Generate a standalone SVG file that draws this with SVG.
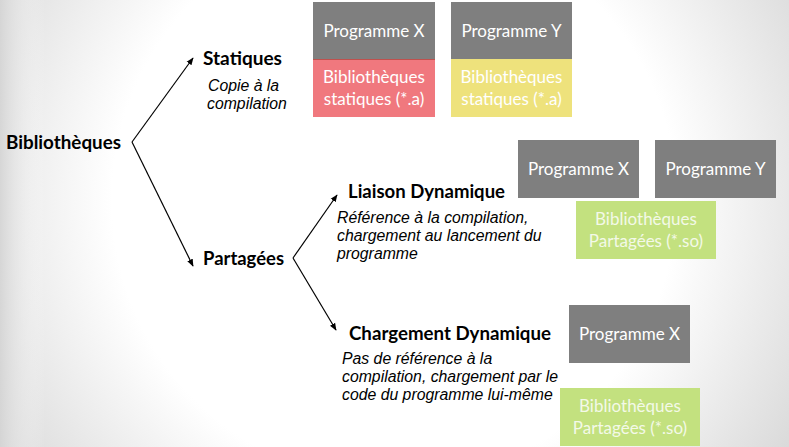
<svg xmlns="http://www.w3.org/2000/svg" width="789" height="447" viewBox="0 0 789 447">
<defs>
<radialGradient id="bg" cx="394" cy="200" r="470" gradientUnits="userSpaceOnUse">
<stop offset="0" stop-color="#ffffff"/>
<stop offset="0.6" stop-color="#ffffff"/>
<stop offset="1" stop-color="#d9d9d9"/>
</radialGradient>
<linearGradient id="edge" x1="0" y1="0" x2="45" y2="0" gradientUnits="userSpaceOnUse">
<stop offset="0" stop-color="#d4d4d4" stop-opacity="0.9"/>
<stop offset="1" stop-color="#ffffff" stop-opacity="0"/>
</linearGradient>
<marker id="ah" viewBox="0 0 10 10" refX="9" refY="5" markerWidth="7.5" markerHeight="7.5" markerUnits="userSpaceOnUse" orient="auto">
<path d="M0,1 L10,5 L0,9 Z" fill="#000"/>
</marker>
<style>
.h{font-family:Lato,"Liberation Sans",sans-serif;font-weight:bold;font-size:19px;fill:#000}
.d{font-family:"Liberation Sans",Arial,sans-serif;font-style:italic;font-size:15.8px;fill:#000}
.bt{font-family:Lato,"Liberation Sans",sans-serif;font-size:17px;fill:#fff;text-anchor:middle}
.gt{font-family:Lato,"Liberation Sans",sans-serif;font-size:17px;fill:#f3f9e8;text-anchor:middle}
.gray{fill:#7f7f7f}
.pink{fill:#f0787e}
.yel{fill:#eee27c}
.grn{fill:#c3e17f}
.ln{stroke:#000;stroke-width:1.2;fill:none;marker-end:url(#ah)}
</style>
</defs>
<rect width="789" height="447" fill="url(#bg)"/>
<rect width="45" height="447" fill="url(#edge)"/>
<g id="connectors">
<line class="ln" x1="132" y1="142" x2="193" y2="58"/>
<line class="ln" x1="132" y1="142" x2="193" y2="266"/>
<line class="ln" x1="293" y1="258" x2="337" y2="195"/>
<line class="ln" x1="293" y1="258" x2="336" y2="330"/>
</g>
<g id="bibliotheques">
<text class="h" x="6" y="149" textLength="115" lengthAdjust="spacingAndGlyphs">Bibliothèques</text>
</g>
<g id="statiques">
<text class="h" x="203" y="65" textLength="79" lengthAdjust="spacingAndGlyphs">Statiques</text>
<text class="d" x="208" y="91">Copie à la</text>
<text class="d" x="207" y="109">compilation</text>
</g>
<g id="partagees">
<text class="h" x="203" y="265" textLength="81" lengthAdjust="spacingAndGlyphs">Partagées</text>
</g>
<g id="liaison">
<text class="h" x="348" y="198" textLength="157" lengthAdjust="spacingAndGlyphs">Liaison Dynamique</text>
<text class="d" x="337" y="223">Référence à la compilation,</text>
<text class="d" x="337" y="241">chargement au lancement du</text>
<text class="d" x="337" y="259">programme</text>
</g>
<g id="chargement">
<text class="h" x="349" y="340" textLength="202" lengthAdjust="spacingAndGlyphs">Chargement Dynamique</text>
<text class="d" x="342" y="364">Pas de référence à la</text>
<text class="d" x="342" y="382">compilation, chargement par le</text>
<text class="d" x="342" y="400">code du programme lui-même</text>
</g>
<g id="static-progX">
<rect class="gray" x="313" y="2" width="122" height="57"/>
<text class="bt" x="374" y="37">Programme X</text>
</g>
<g id="static-libX">
<rect class="pink" x="313" y="59" width="122" height="58"/>
<line x1="313" y1="59.5" x2="435" y2="59.5" stroke="#c0504d" stroke-width="1"/>
<text class="bt" x="374" y="83">Bibliothèques</text>
<text class="bt" x="374" y="105">statiques (*.a)</text>
</g>
<g id="static-progY">
<rect class="gray" x="451" y="2" width="121" height="57"/>
<text class="bt" x="511.5" y="37">Programme Y</text>
</g>
<g id="static-libY">
<rect class="yel" x="451" y="59" width="121" height="58"/>
<text class="bt" x="511.5" y="83">Bibliothèques</text>
<text class="bt" x="511.5" y="105">statiques (*.a)</text>
</g>
<g id="dyn-progX">
<rect class="gray" x="518" y="140" width="121" height="58"/>
<text class="bt" x="578.5" y="175">Programme X</text>
</g>
<g id="dyn-progY">
<rect class="gray" x="655" y="140" width="121" height="58"/>
<text class="bt" x="715.5" y="175">Programme Y</text>
</g>
<g id="dyn-lib">
<rect class="grn" x="576" y="201" width="140" height="58"/>
<text class="gt" x="646" y="225">Bibliothèques</text>
<text class="gt" x="646" y="247">Partagées (*.so)</text>
</g>
<g id="load-progX">
<rect class="gray" x="569" y="305" width="121" height="58"/>
<text class="bt" x="629.5" y="340">Programme X</text>
</g>
<g id="load-lib">
<rect class="grn" x="560" y="388" width="140" height="58"/>
<text class="gt" x="630" y="412">Bibliothèques</text>
<text class="gt" x="630" y="434">Partagées (*.so)</text>
</g>
</svg>
